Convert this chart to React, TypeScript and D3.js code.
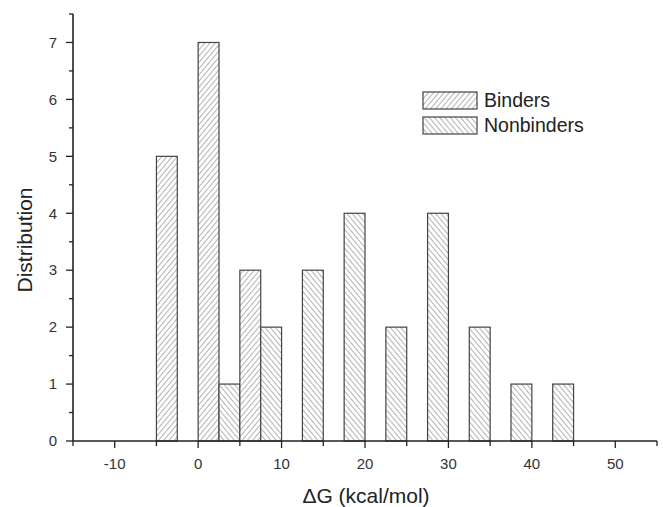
import React from "react";
import * as d3 from "d3";

const binStarts = [-5, 0, 2.5, 5, 7.5, 12.5, 17.5, 22.5, 27.5, 32.5, 37.5, 42.5];
const binSeries = ["Binders", "Binders", "Nonbinders", "Binders", "Nonbinders", "Nonbinders", "Nonbinders", "Nonbinders", "Nonbinders", "Nonbinders", "Nonbinders", "Nonbinders"];
const binCounts = [5, 7, 1, 3, 2, 3, 4, 2, 4, 2, 1, 1];
const binWidth = 2.5;
const seriesNames = ["Binders", "Nonbinders"];
const xTickValues = [-10, 0, 10, 20, 30, 40, 50];
const yTickValues = [0, 1, 2, 3, 4, 5, 6, 7];

const W = 663;
const H = 507;
const left = 73;
const right = 657;
const top = 14;
const bottom = 441;

export default function App() {
  const x = d3.scaleLinear().domain([-15, 55]).range([left, right]);
  const y = d3.scaleLinear().domain([0, 7.5]).range([bottom, top]);
  const font = "'Liberation Sans', Arial, sans-serif";
  const ink = "#222";
  const xMinor = d3.range(-15, 55.01, 5);
  const yMinor = d3.range(0, 7.51, 0.5);
  const patId = (s: string) => (s === "Binders" ? "hatchB" : "hatchN");

  return (
    <svg width={W} height={H} style={{ position: "absolute", left: 0, top: 0, background: "#fff" }} fontFamily={font}>
      <defs>
        <pattern id="hatchB" patternUnits="userSpaceOnUse" width={4} height={4} patternTransform="rotate(40)">
          <rect width={4} height={4} fill="#fff" />
          <line x1={0} y1={0} x2={0} y2={4} stroke="#8a8a8a" strokeWidth={1.3} />
        </pattern>
        <pattern id="hatchN" patternUnits="userSpaceOnUse" width={4} height={4} patternTransform="rotate(-40)">
          <rect width={4} height={4} fill="#fff" />
          <line x1={0} y1={0} x2={0} y2={4} stroke="#8a8a8a" strokeWidth={1.3} />
        </pattern>
      </defs>

      {binStarts.map((s, i) => (
        <rect
          key={i}
          x={x(s)}
          y={y(binCounts[i])}
          width={x(s + binWidth) - x(s)}
          height={y(0) - y(binCounts[i])}
          fill={`url(#${patId(binSeries[i])})`}
          stroke="#444"
          strokeWidth={1.2}
        />
      ))}

      {/* y axis */}
      <line x1={left} y1={top} x2={left} y2={bottom} stroke={ink} strokeWidth={1.6} />
      {yMinor.map((v) => {
        const major = Math.abs(v - Math.round(v)) < 1e-6;
        return (
          <line key={"ym" + v} x1={left} x2={left - (major ? 7 : 4)} y1={y(v)} y2={y(v)} stroke={ink} strokeWidth={1.3} />
        );
      })}
      {yTickValues.map((v) => (
        <text key={"yt" + v} x={left - 16} y={y(v)} dy="0.35em" textAnchor="end" fontSize={15} fill="#333">
          {v}
        </text>
      ))}

      {/* x axis */}
      <line x1={left} y1={bottom} x2={right} y2={bottom} stroke={ink} strokeWidth={1.6} />
      {xMinor.map((v) => {
        const major = Math.abs(v % 10) < 1e-6;
        return (
          <line key={"xm" + v} x1={x(v)} x2={x(v)} y1={bottom} y2={bottom + (major ? 7 : 5)} stroke={ink} strokeWidth={1.3} />
        );
      })}
      {xTickValues.map((v) => (
        <text key={"xt" + v} x={x(v)} y={469} textAnchor="middle" fontSize={15} fill="#333">
          {v}
        </text>
      ))}

      <text x={366} y={503} textAnchor="middle" fontSize={21} fill={ink}>
        ΔG (kcal/mol)
      </text>
      <text transform={`translate(32, 240) rotate(-90)`} textAnchor="middle" fontSize={21} fill={ink}>
        Distribution
      </text>

      {/* legend */}
      {seriesNames.map((s, i) => (
        <g key={s} transform={`translate(423, ${92 + i * 25})`}>
          <rect x={0} y={0} width={54} height={17} fill={`url(#${patId(s)})`} stroke="#444" strokeWidth={1.2} />
          <text x={61} y={15} fontSize={19.5} fill={ink}>
            {s}
          </text>
        </g>
      ))}
    </svg>
  );
}
